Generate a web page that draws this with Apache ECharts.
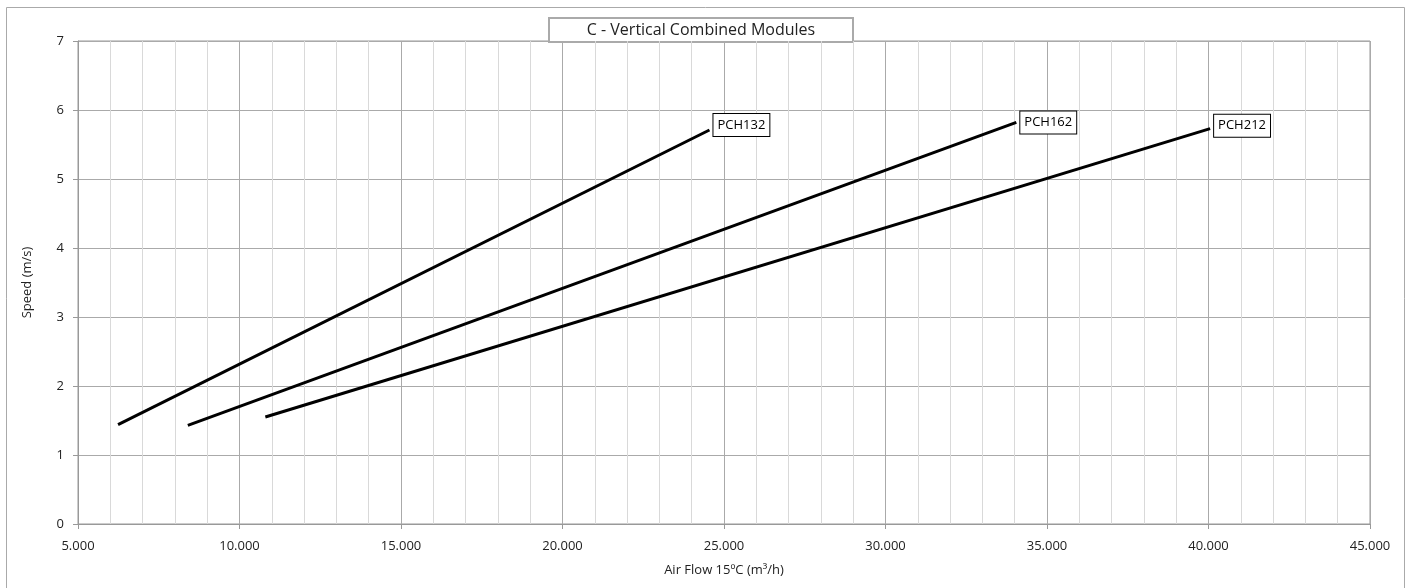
<!DOCTYPE html>
<html><head><meta charset="utf-8">
<script src="https://cdn.jsdelivr.net/npm/echarts@6/dist/echarts.min.js"></script>
<style>html,body{margin:0;padding:0;background:#fff}#c{width:1408px;height:588px}</style>
</head><body><div id="c"></div>
<script>
const titleText = 'C - Vertical Combined Modules';
const xName = 'Air Flow 15ºC (m³/h)';
const yName = 'Speed (m/s)';
const seriesNames = ['PCH132', 'PCH162', 'PCH212'];
const pch132 = [[6240, 1.44], [24550, 5.71]];
const pch162 = [[8400, 1.43], [34050, 5.82]];
const pch212 = [[10800, 1.55], [40050, 5.73]];
const seriesData = [pch132, pch162, pch212];
const labelOffsetsY = [-5, 0, -3];

const font = '"Open Sans", "Liberation Sans", sans-serif';
const chart = echarts.init(document.getElementById('c'), null, {renderer: 'canvas'});
const fmt = v => (v / 1000).toFixed(3);

chart.setOption({
  animation: false,
  backgroundColor: '#fff',
  textStyle: {fontFamily: font},
  grid: {left: 78, right: 38, top: 41, bottom: 64, show: true, borderColor: '#999', borderWidth: 1, containLabel: false},
  graphic: [
    {type: 'rect', left: 4, top: 5, shape: {width: 1398, height: 600}, style: {fill: 'none', stroke: '#aaa', lineWidth: 1}, silent: true, z: -1},
    {type: 'group', left: 548, top: 17, children: [
      {type: 'rect', shape: {x: 0, y: 0, width: 304, height: 24}, style: {fill: '#fff', stroke: '#aaa', lineWidth: 2}},
      {type: 'text', x: 152, y: 12, style: {text: titleText, fill: '#222', font: '16px ' + font, textAlign: 'center', textVerticalAlign: 'middle'}}
    ], z: 10}
  ],
  xAxis: {
    type: 'value', min: 5000, max: 45000, interval: 5000,
    name: xName, nameLocation: 'middle', nameGap: 40,
    nameTextStyle: {color: '#222', fontSize: 13, fontFamily: font},
    axisLine: {show: true, lineStyle: {color: '#999'}},
    axisTick: {show: true, length: 5, lineStyle: {color: '#999'}},
    axisLabel: {formatter: fmt, color: '#222', fontSize: 13, margin: 16},
    splitLine: {show: true, lineStyle: {color: '#aaa', width: 1}},
    minorTick: {show: false, splitNumber: 5},
    minorSplitLine: {show: true, lineStyle: {color: '#d9d9d9', width: 1}}
  },
  yAxis: {
    type: 'value', min: 0, max: 7, interval: 1,
    name: yName, nameLocation: 'middle', nameGap: 44, nameRotate: 90,
    nameTextStyle: {color: '#222', fontSize: 13, fontFamily: font},
    axisLine: {show: true, lineStyle: {color: '#999'}},
    axisTick: {show: true, length: 5, lineStyle: {color: '#999'}},
    axisLabel: {color: '#222', fontSize: 13, margin: 14},
    splitLine: {show: true, lineStyle: {color: '#aaa', width: 1}}
  },
  series: seriesNames.map((n, i) => ({
    name: n, type: 'line', data: seriesData[i], showSymbol: false, symbol: 'none',
    lineStyle: {color: '#000', width: 3}, z: 5,
    endLabel: {
      show: true, formatter: n, color: '#000', fontSize: 13, fontFamily: font,
      backgroundColor: '#fff', borderColor: '#000', borderWidth: 1,
      padding: [5, 4, 4, 4], distance: 4, offset: [0, labelOffsetsY[i]]
    }
  }))
});
</script></body></html>
